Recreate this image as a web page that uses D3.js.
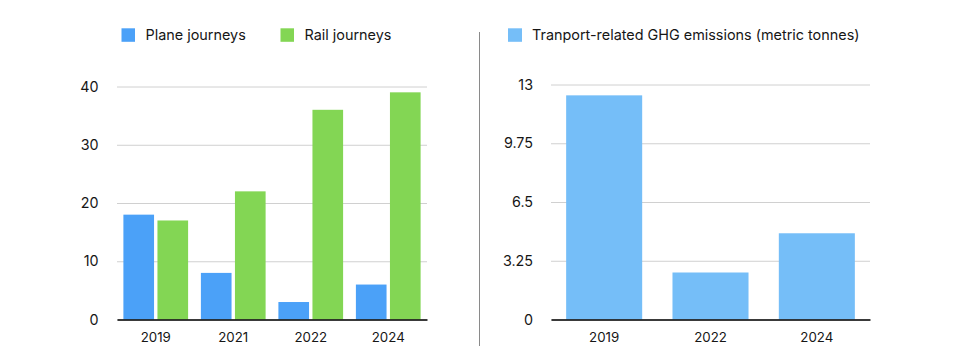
<!DOCTYPE html>
<html><head><meta charset="utf-8">
<script src="https://cdn.jsdelivr.net/npm/d3@7"></script>
<style>
html,body{margin:0;padding:0;background:#fff;}
svg{display:block;font-family:Inter,"Noto Sans",sans-serif;}
</style></head>
<body><svg id="c" width="960" height="356"></svg>
<script>
const years1 = ["2019","2021","2022","2024"];
const plane = [18, 8, 3, 6];
const rail = [17, 22, 36, 39];
const ticks1 = [0,10,20,30,40];
const years2 = ["2019","2022","2024"];
const ghg = [12.4, 2.6, 4.77];
const ticks2 = [0,3.25,6.5,9.75,13];
const seriesNames = ["Plane journeys","Rail journeys"];
const ghgName = "Tranport-related GHG emissions (metric tonnes)";

const colPlane = "#4BA1F8", colRail = "#83D654", colGhg = "#75BEF8";
const svg = d3.select("#c");
const textCol = "#161616";

// Left chart
const y1 = d3.scaleLinear().domain([0,40]).range([319.5,86.5]);
const x0 = d3.scaleBand().domain(years1).range([117,427]).paddingInner(0.165).paddingOuter(0.0825);
const x1 = d3.scaleBand().domain([0,1]).range([0,x0.bandwidth()]).paddingInner(0.1);

const g1 = svg.append("g");
g1.append("g").attr("transform","translate(117,0)")
  .call(d3.axisLeft(y1).tickValues(ticks1).tickSize(-310).tickFormat(d3.format("d")))
  .call(g=>{g.select(".domain").remove();
    g.selectAll(".tick line").attr("stroke","#d0d0d0");
    g.selectAll(".tick text").attr("x",-18.5).attr("fill",textCol).style("font-size","14.3px").style("font-family","Inter,sans-serif");});
const data1 = years1.map((y,i)=>({y, v:[plane[i],rail[i]]}));
const grp = g1.selectAll(".grp").data(data1).join("g").attr("transform",d=>`translate(${x0(d.y)},0)`);
grp.selectAll("rect").data(d=>d.v.map((v,k)=>({v,k}))).join("rect")
  .attr("x",d=>x1(d.k)).attr("width",x1.bandwidth())
  .attr("y",d=>y1(d.v)).attr("height",d=>y1(0)-y1(d.v))
  .attr("fill",d=>d.k===0?colPlane:colRail);
g1.append("g").attr("transform","translate(0,319.5)")
  .call(d3.axisBottom(x0).tickSize(0).tickPadding(13))
  .call(g=>{g.select(".domain").attr("stroke","#000").attr("stroke-width",1.6);
    g.selectAll(".tick text").attr("fill",textCol).style("font-size","13.3px").style("font-family","Inter,sans-serif");});

// Legend left
const leg = [{n:seriesNames[0],c:colPlane,x:121.5},{n:seriesNames[1],c:colRail,x:280.5}];
leg.forEach(l=>{
  svg.append("rect").attr("x",l.x).attr("y",28.3).attr("width",13.5).attr("height",13.5).attr("fill",l.c);
  svg.append("text").attr("x",l.x+24).attr("y",35).attr("dy","0.35em").attr("fill",textCol).style("font-size","14.4px").text(l.n);
});

// Divider
svg.append("line").attr("x1",479.5).attr("x2",479.5).attr("y1",32).attr("y2",346).attr("stroke","#8a8a8a").attr("stroke-width",1);

// Right chart
const y2 = d3.scaleLinear().domain([0,13]).range([319.5,84.5]);
const xb = d3.scaleBand().domain(years2).range([551,870]).paddingInner(0.285).paddingOuter(0.1425);
const g2 = svg.append("g");
g2.append("g").attr("transform","translate(551,0)")
  .call(d3.axisLeft(y2).tickValues(ticks2).tickSize(-319).tickFormat(d=>String(d)))
  .call(g=>{g.select(".domain").remove();
    g.selectAll(".tick line").attr("stroke","#d0d0d0");
    g.selectAll(".tick text").attr("x",-18).attr("fill",textCol).style("font-size","14.3px").style("font-family","Inter,sans-serif");});
g2.selectAll("rect.b").data(years2.map((y,i)=>({y,v:ghg[i]}))).join("rect").attr("class","b")
  .attr("x",d=>xb(d.y)).attr("width",xb.bandwidth())
  .attr("y",d=>y2(d.v)).attr("height",d=>y2(0)-y2(d.v)).attr("fill",colGhg);
g2.append("g").attr("transform","translate(0,319.5)")
  .call(d3.axisBottom(xb).tickSize(0).tickPadding(13))
  .call(g=>{g.select(".domain").attr("stroke","#000").attr("stroke-width",1.6);
    g.selectAll(".tick text").attr("fill",textCol).style("font-size","13.3px").style("font-family","Inter,sans-serif");});

svg.append("rect").attr("x",508).attr("y",28.3).attr("width",14).attr("height",13.5).attr("fill",colGhg);
svg.append("text").attr("x",532).attr("y",35).attr("dy","0.35em").attr("fill",textCol).style("font-size","14.4px").text(ghgName);
</script></body></html>
